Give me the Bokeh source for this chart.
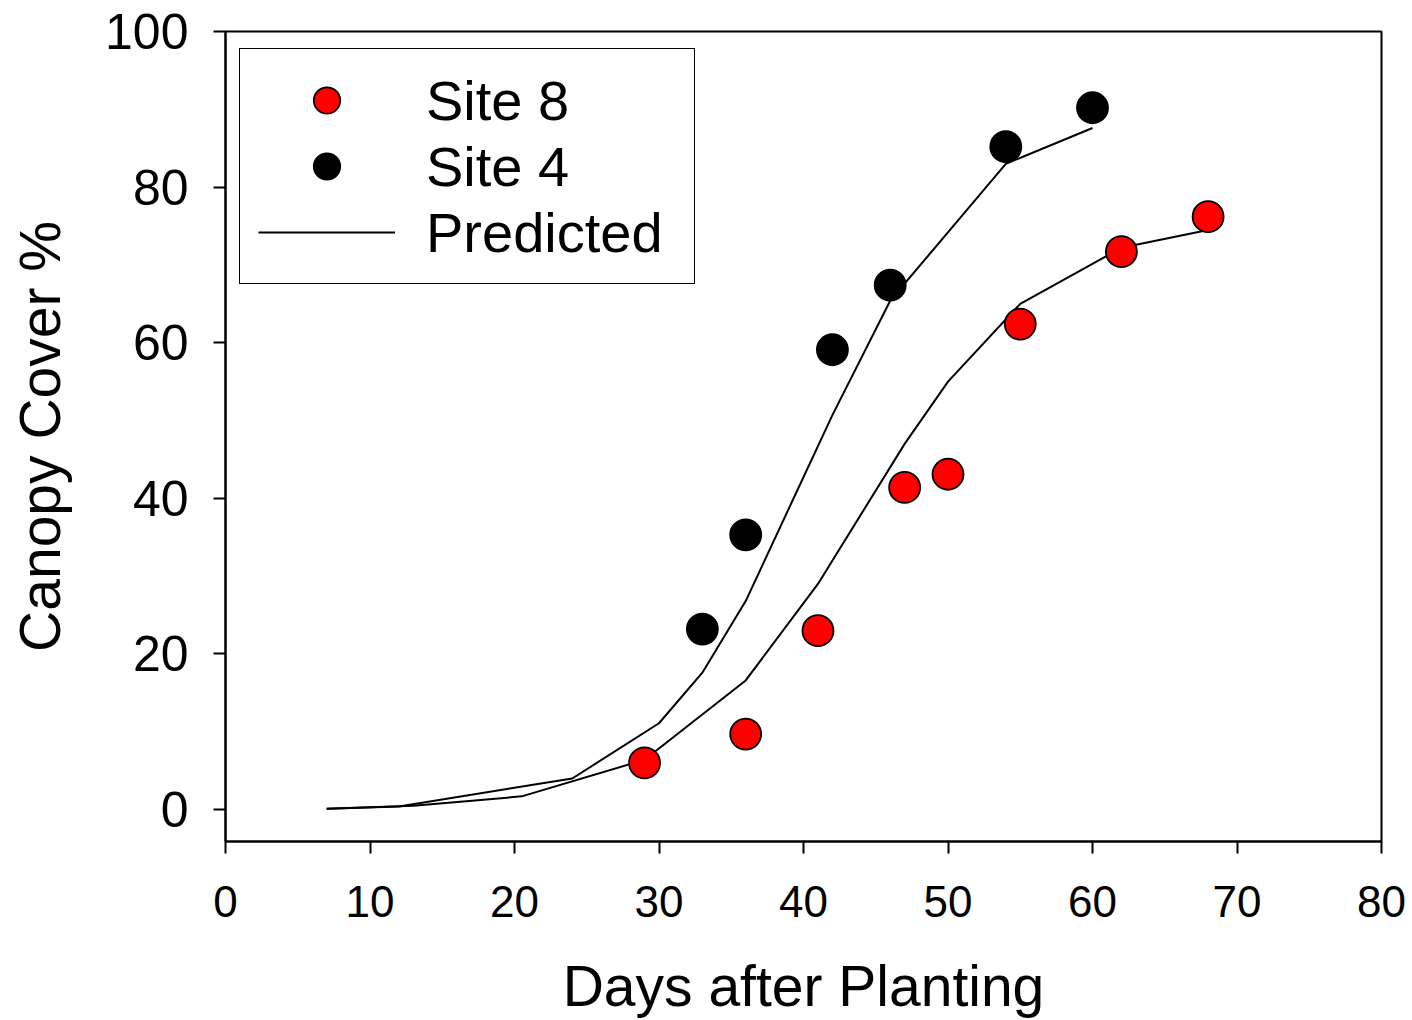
from bokeh.plotting import figure
from bokeh.models import Range1d, FixedTicker, Legend, LegendItem
from bokeh.embed import file_html
from bokeh.resources import INLINE

# ---- data ----
site8_days = [29, 36, 41, 47, 50, 55, 62, 68]
site8_cover = [6.0, 9.7, 23.0, 41.4, 43.1, 62.4, 71.7, 76.2]

site4_days = [33, 36, 42, 46, 54, 60]
site4_cover = [23.2, 35.3, 59.1, 67.4, 85.2, 90.2]

pred8_days = [7, 13, 20.5, 29, 36, 41, 47, 50, 55, 62, 68]
pred8_cover = [0.1, 0.5, 1.7, 6.4, 16.6, 29.0, 47.0, 55.0, 65.0, 72.2, 74.5]

pred4_days = [7, 12, 24, 30, 33, 36, 42, 46, 54, 60]
pred4_cover = [0.1, 0.4, 4.0, 11.1, 17.6, 26.8, 50.7, 65.4, 83.0, 87.6]

x_ticks = [0, 10, 20, 30, 40, 50, 60, 70, 80]
y_ticks = [0, 20, 40, 60, 80, 100]

FONT = "Liberation Sans"

p = figure(width=1412, height=1020, output_backend="svg", toolbar_location=None,
           x_range=Range1d(0, 80), y_range=Range1d(-4.1, 100),
           frame_width=1156, frame_height=810,
           min_border_left=225, min_border_right=31, min_border_top=31, min_border_bottom=179)

p.xgrid.visible = False
p.ygrid.visible = False
p.outline_line_color = "black"
p.outline_line_width = 2
p.outline_line_alpha = 1.0
p.background_fill_color = "white"
p.border_fill_color = "white"

line8 = p.line(pred8_days, pred8_cover, line_color="black", line_width=2)
line4 = p.line(pred4_days, pred4_cover, line_color="black", line_width=2)
s8 = p.scatter(site8_days, site8_cover, size=31, fill_color="red", line_color="black", line_width=1.8)
s4 = p.scatter(site4_days, site4_cover, size=31, fill_color="black", line_color="black", line_width=1.8)

for ax, ticks, fs in ((p.xaxis[0], x_ticks, "44px"), (p.yaxis[0], y_ticks, "50px")):
    ax.ticker = FixedTicker(ticks=ticks)
    ax.minor_tick_line_color = None
    ax.major_tick_in = 0
    ax.major_tick_out = 12
    ax.major_tick_line_width = 2
    ax.axis_line_width = 2
    ax.major_label_text_font = FONT
    ax.major_label_text_font_size = fs
    ax.major_label_text_color = "black"
    ax.axis_label_text_font = FONT
    ax.axis_label_text_font_size = "57px"
    ax.axis_label_text_font_style = "normal"
    ax.axis_label_text_color = "black"

p.xaxis.axis_label = "Days after Planting"
p.yaxis.axis_label = "Canopy Cover %"
p.xaxis.major_label_standoff = 32
p.yaxis.major_label_standoff = 25
p.xaxis.axis_label_standoff = 34
p.yaxis.axis_label_standoff = 30

legend = Legend(items=[LegendItem(label="Site 8", renderers=[s8]),
                       LegendItem(label="Site 4", renderers=[s4]),
                       LegendItem(label="Predicted", renderers=[line4])],
                location=(14, 557))
legend.margin = 0
legend.padding = 18
legend.spacing = 0
legend.glyph_width = 137
legend.glyph_height = 66
legend.label_standoff = 31
legend.label_width = 250
legend.label_text_font = FONT
legend.label_text_font_size = "56px"
legend.label_text_color = "black"
legend.label_text_baseline = "middle"
legend.border_line_color = "black"
legend.border_line_width = 1.5
legend.border_line_alpha = 1.0
legend.background_fill_color = "white"
legend.background_fill_alpha = 1.0
p.add_layout(legend, "center")

open("out.html", "w").write(file_html(p, INLINE))
